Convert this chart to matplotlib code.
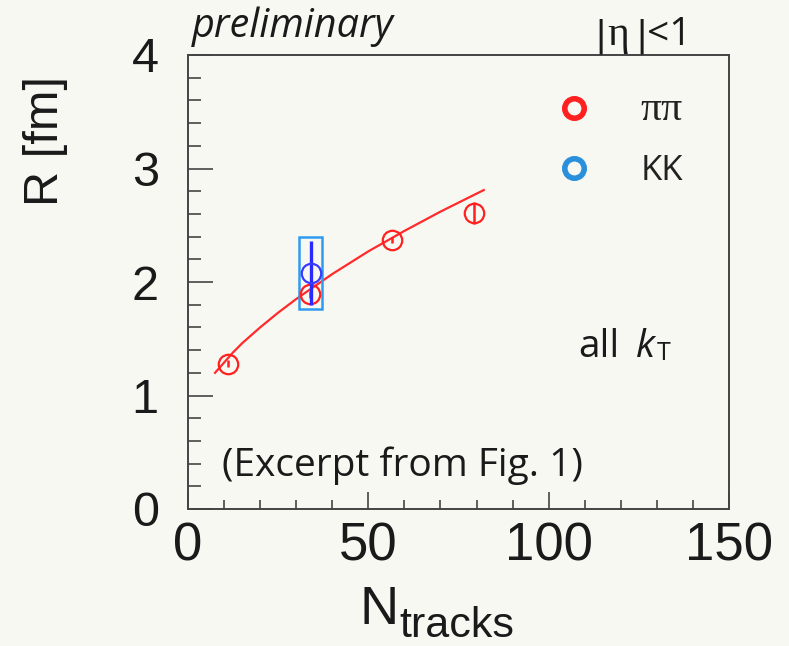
import matplotlib
matplotlib.use('Agg')
import matplotlib.pyplot as plt
from matplotlib.patches import Rectangle
from matplotlib.lines import Line2D

# pi-pi points
pi_n = [11, 33.8, 56.7, 79.4]
pi_r = [1.28, 1.89, 2.37, 2.61]
pi_err = [0.03, 0.03, 0.03, 0.095]

# K-K point with systematic box
kk_n = [34]
kk_r = [2.08]
kk_err = [0.28]
kk_sys_n = [3.2]
kk_sys_r = [0.32]

# fit curve
fit_n = [7.5, 10, 12.5, 15, 20, 25, 30, 35, 40, 50, 60, 70, 82]
fit_r = [1.20, 1.29, 1.38, 1.46, 1.60, 1.73, 1.85, 1.96, 2.07, 2.27, 2.45, 2.62, 2.81]

bg = '#f8f8f3'
txt = '#1a1a1a'
W, H = 789, 646

fig = plt.figure(figsize=(7.89, 6.46), dpi=100, facecolor=bg)
ax = fig.add_axes([188/W, 1 - 509/H, (729 - 188)/W, (509 - 55)/H])
ax.set_facecolor(bg)

ax.set_xlim(0, 150)
ax.set_ylim(0, 4)

for s in ax.spines.values():
    s.set_color('#444444')
    s.set_linewidth(1.4)

ax.set_xticks([0, 50, 100, 150])
ax.set_xticks(range(0, 151, 10), minor=True)
ax.set_yticks([0, 1, 2, 3, 4])
ax.set_yticks([i * 0.2 for i in range(21)], minor=True)
ax.tick_params(axis='both', which='both', direction='in', color='#444444', width=1.2,
               top=False, right=False)
ax.tick_params(axis='x', which='major', length=12, pad=9)
ax.tick_params(axis='x', which='minor', length=6.5)
ax.tick_params(axis='y', which='major', length=18, pad=21)
ax.tick_params(axis='y', which='minor', length=9.5)
for lab in ax.get_xticklabels():
    lab.set_fontfamily('Liberation Sans')
    lab.set_fontsize(38)
    lab.set_color(txt)
for lab in ax.get_yticklabels():
    lab.set_fontfamily('Liberation Sans')
    lab.set_fontsize(35)
    lab.set_color(txt)

# axis titles
fig.text(45/W, 1 - 141/H, 'R [fm]', rotation=90, family='Liberation Sans', fontsize=35,
         color=txt, ha='center', va='center')
fig.text(360/W, 1 - 624/H, 'N', family='Liberation Sans', fontsize=39, color=txt,
         ha='left', va='baseline')
fig.text(399/W, 1 - 637/H, 'tracks', family='Liberation Sans', fontsize=31, color=txt,
         ha='left', va='baseline')

# fit line
ax.plot(fit_n, fit_r, color='#ff2a2a', lw=1.6, zorder=2)

# KK systematic box
for n, r, dn, dr in zip(kk_n, kk_r, kk_sys_n, kk_sys_r):
    ax.add_patch(Rectangle((n - dn, r - dr), 2 * dn, 2 * dr, fill=False,
                           edgecolor='#2f9bf0', lw=1.8, zorder=3))

ax.errorbar(pi_n, pi_r, yerr=pi_err, fmt='o', mfc='none', mec='#ff2020', ecolor='#ff2020',
            ms=14, mew=1.6, elinewidth=1.8, capsize=0, zorder=4)
ax.errorbar(kk_n, kk_r, yerr=kk_err, fmt='o', mfc='none', mec='#3a3aff', ecolor='#2a2aff',
            ms=14, mew=1.6, elinewidth=2.4, capsize=0, zorder=5)

# legend
h1 = Line2D([], [], ls='none', marker='o', mfc='none', mec='#ff2020', ms=14, mew=4)
h2 = Line2D([], [], ls='none', marker='o', mfc='none', mec='#2a90dc', ms=14, mew=4)
leg = ax.legend([h1, h2], ['ππ', 'KK'], loc='upper left', frameon=False,
                bbox_to_anchor=((557 - 188) / 541, (509 - 91) / 454),
                borderpad=0, borderaxespad=0, handlelength=1.0, handletextpad=1.4,
                labelspacing=0.7, prop={'family': 'Open Sans', 'size': 25})
leg.get_texts()[0].set_fontfamily('Liberation Serif')
leg.get_texts()[0].set_fontsize(30)
for t in leg.get_texts():
    t.set_color('#222222')

# annotations
fig.text(192/W, 1 - 27/H, 'preliminary', family='Open Sans', style='italic', fontsize=28.5,
         color=txt, va='center', ha='left')
# |eta|<1 : sans bars, serif eta
fig.text(594/W, 1 - 45/H, '|', family='DejaVu Sans', fontsize=26, color=txt,
         va='baseline', ha='left')
fig.text(607/W, 1 - 45/H, 'η', family='Liberation Serif', fontsize=30, color=txt,
         va='baseline', ha='left')
fig.text(635/W, 1 - 45/H, '|', family='DejaVu Sans', fontsize=26, color=txt,
         va='baseline', ha='left')
fig.text(647/W, 1 - 45/H, '<1', family='Open Sans', fontsize=28, color=txt,
         va='baseline', ha='left')
fig.text(578/W, 1 - 357/H, 'all', family='Open Sans', fontsize=28, color=txt,
         va='baseline', ha='left')
fig.text(636/W, 1 - 357/H, 'k', family='Open Sans', style='italic', fontsize=28, color=txt,
         va='baseline', ha='left')
fig.text(657/W, 1 - 360/H, 'T', family='Open Sans', fontsize=18, color=txt,
         va='baseline', ha='left')
fig.text(222/W, 1 - 466/H, '(Excerpt from Fig. 1)', family='Open Sans', fontsize=28,
         color=txt, va='center', ha='left')

fig.savefig('out.png', dpi=100, facecolor=bg)
plt.close(fig)
